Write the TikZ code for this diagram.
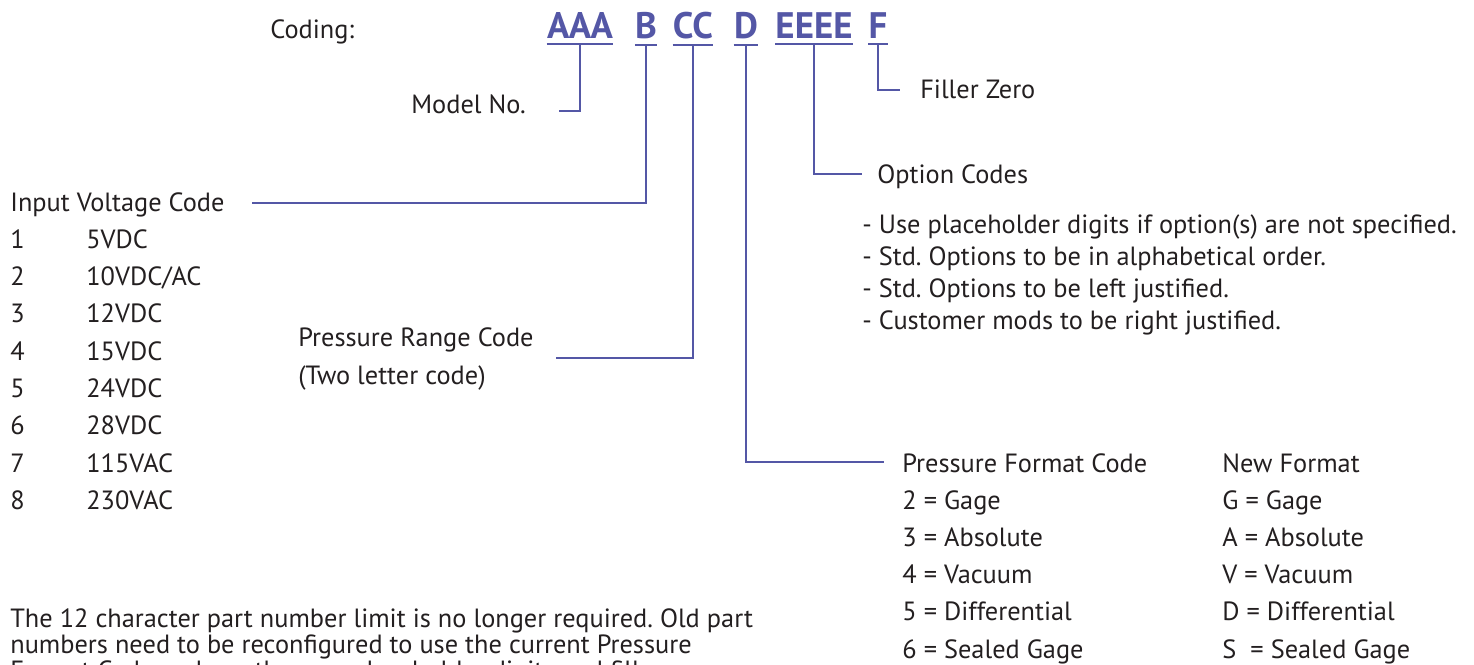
\documentclass[tikz,border=0pt]{standalone}
\usepackage{fontspec}
\setmainfont{PT Sans}
\usetikzlibrary{positioning,calc}
\definecolor{leadblue}{RGB}{84,87,166}
\definecolor{ink}{RGB}{35,31,32}
\frenchspacing

\begin{document}
\begin{tikzpicture}[
  x=0.02cm, y=-0.02cm,
  txt/.style={anchor=base west, inner sep=0pt, font=\fontsize{15}{18}\selectfont, text=ink},
  code/.style={anchor=base, inner xsep=0pt, inner ysep=3.4pt, font=\fontsize{21}{24}\selectfont\bfseries, text=leadblue},
  lead/.style={draw=leadblue, line width=1.6pt},
  uline/.style={draw=leadblue, line width=1.2pt}
]
\useasboundingbox (0,0) rectangle (1474,664);

% Coding line
\node[txt] (coding) at (270,38) {Coding:};
\node[code] (AAA) at (580,38) {AAA};
\node[code] (B) at (646,38) {B};
\node[code] (CC) at (693,38) {CC};
\node[code] (D) at (746,38) {D};
\node[code] (EEEE) at (814,38) {EEEE};
\node[code] (F) at (878,38) {F};
\foreach \c in {AAA,B,CC,D,EEEE,F}
  \draw[uline] (\c.south west) -- (\c.south east);

% Labels
\node[txt] (model) at (411,113) {Model No.};
\node[txt] (filler) at (920,98) {Filler Zero};
\node[txt] (opt) at (877,183) {Option Codes};
\node[txt] (volt) at (10,211) {Input Voltage Code};
\node[txt] (range) at (298,346) {Pressure Range Code};
\node[txt] (range2) at (298,384) {(Two letter code)};
\node[txt] (fmt) at (902,472) {Pressure Format Code};
\node[txt] (newfmt) at (1222,472) {New Format};

% Input voltage codes
\foreach \v [count=\i] in {5VDC,10VDC/AC,12VDC,15VDC,24VDC,28VDC,115VAC,230VAC} {
  \node[txt] (vn\i) at (10,211+37.3*\i) {\i};
  \node[txt] (vv\i) at (86,211+37.3*\i) {\v};
}

% Option notes
\foreach \t [count=\i from 0] in {%
  - Use placeholder digits if option(s) are not specified.,
  - Std. Options to be in alphabetical order.,
  - Std. Options to be left justified.,
  - Customer mods to be right justified.}
  \node[txt] (note\i) at (862,233+32.3*\i) {\t};

% Pressure formats
\foreach \o/\n [count=\i] in {2 = Gage/G = Gage, 3 = Absolute/A = Absolute,
    4 = Vacuum/V = Vacuum, 5 = Differential/D = Differential,
    6 = Sealed Gage/S~ = Sealed Gage} {
  \node[txt] (old\i) at (902,472+37.2*\i) {\o};
  \node[txt] (new\i) at (1222,472+37.2*\i) {\n};
}

% Leads
\draw[lead] (AAA.south) |- ($(model.base east)+(33,-2)$);
\draw[lead] (B.south) |- ($(volt.base east)+(27,-8)$);
\draw[lead] (CC.south) |- ($(range.base east)+(22,12)$);
\draw[lead] (D.south) |- ($(fmt.base west)+(-18,-10)$);
\draw[lead] (EEEE.south) |- ($(opt.base west)+(-15,-9)$);
\draw[lead] (F.south) |- ($(filler.base west)+(-20,-8)$);

% Note
\node[txt] (p1) at (10,627) {The 12 character part number limit is no longer required. Old part};
\node[txt] (p2) at (10,653) {numbers need to be reconfigured to use the current Pressure};
\node[txt] (p3) at (10,679) {Format Code and use the new placeholder digits and filler zero.};

\end{tikzpicture}
\end{document}
